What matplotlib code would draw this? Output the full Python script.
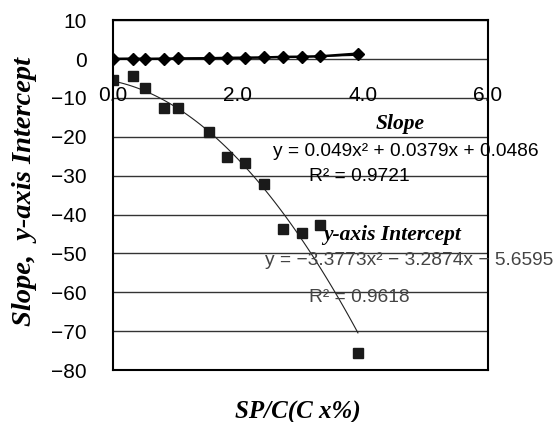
import matplotlib.pyplot as plt
import numpy as np

# SP/C values (x) and the two series
sp_c = [0.0, 0.32, 0.52, 0.82, 1.04, 1.54, 1.82, 2.12, 2.42, 2.72, 3.02, 3.32, 3.92]
slope = [0.05, 0.1, 0.05, 0.1, 0.15, 0.2, 0.3, 0.35, 0.4, 0.55, 0.6, 0.7, 1.4]
intercept = [-5.4, -4.4, -7.5, -12.6, -12.6, -18.8, -25.2, -26.8, -32.2, -43.7, -44.8, -42.7, -75.6]

slope_fit = [0.049, 0.0379, 0.0486]
icpt_fit = [-3.3773, -3.2874, -5.6595]

x_ticks = [0.0, 2.0, 4.0, 6.0]
y_ticks = [10, 0, -10, -20, -30, -40, -50, -60, -70, -80]

serif_bi = dict(family="Liberation Serif", weight="bold", style="italic")
sans = "Liberation Sans"

fig = plt.figure(figsize=(5.53, 4.22), dpi=100)
ax = fig.add_axes([0.2043, 0.1232, 0.678, 0.829])

ax.set_xlim(0, 6)
ax.set_ylim(-80, 10)
ax.set_yticks(y_ticks)
ax.set_yticklabels([str(v).replace("-", "\u2212") for v in y_ticks], family=sans, fontsize=15)
ax.tick_params(axis="y", length=0, pad=19)
ax.set_xticks([])
ax.grid(axis="y", color="#333333", linewidth=1.0)
ax.set_axisbelow(True)
for s in ax.spines.values():
    s.set_linewidth(1.5)
    s.set_color("black")

# x tick labels sit on the -10 gridline, as in the original
for xt in x_ticks:
    ax.text(xt, -9.5, "%.1f" % xt, ha="center", va="center", fontsize=15, family=sans)

# trendlines
xx = np.linspace(0, 3.92, 100)
ax.plot(xx, np.polyval(slope_fit, xx), color="black", linewidth=0.8)
ax.plot(xx, np.polyval(icpt_fit, xx), color="#222222", linewidth=0.8)

ax.plot(sp_c, slope, color="black", marker="D", markersize=6, linewidth=1.8)
ax.plot(sp_c, intercept, linestyle="none", color="#1a1a1a", marker="s", markersize=6.5)

ax.text(4.6, -16.8, "Slope", ha="center", va="center", fontsize=15.5, **serif_bi)
ax.text(2.56, -23.8, "y = 0.049x\u00b2 + 0.0379x + 0.0486", ha="left", va="center",
        fontsize=13.8, family=sans, clip_on=False)
ax.text(3.95, -30.3, "R\u00b2 = 0.9721", ha="center", va="center", fontsize=13.8, family=sans)
ax.text(4.46, -45.3, "y-axis Intercept", ha="center", va="center", fontsize=15.5, **serif_bi)
ax.text(2.43, -51.8, "y = \u22123.3773x\u00b2 \u2212 3.2874x \u2212 5.6595", ha="left", va="center",
        fontsize=13.8, family=sans, color="#444444", clip_on=False)
ax.text(3.95, -61.3, "R\u00b2 = 0.9618", ha="center", va="center", fontsize=13.8, family=sans,
        color="#444444")

fig.text(25 / 553, 1 - 191 / 422, "Slope,  y-axis Intercept", rotation=90, ha="center",
         va="center", fontsize=20.5, **serif_bi)
fig.text(298 / 553, 1 - 412 / 422, "SP/C(C x%)", ha="center", va="center", fontsize=18,
         **serif_bi)

plt.savefig("out.png", dpi=100)
